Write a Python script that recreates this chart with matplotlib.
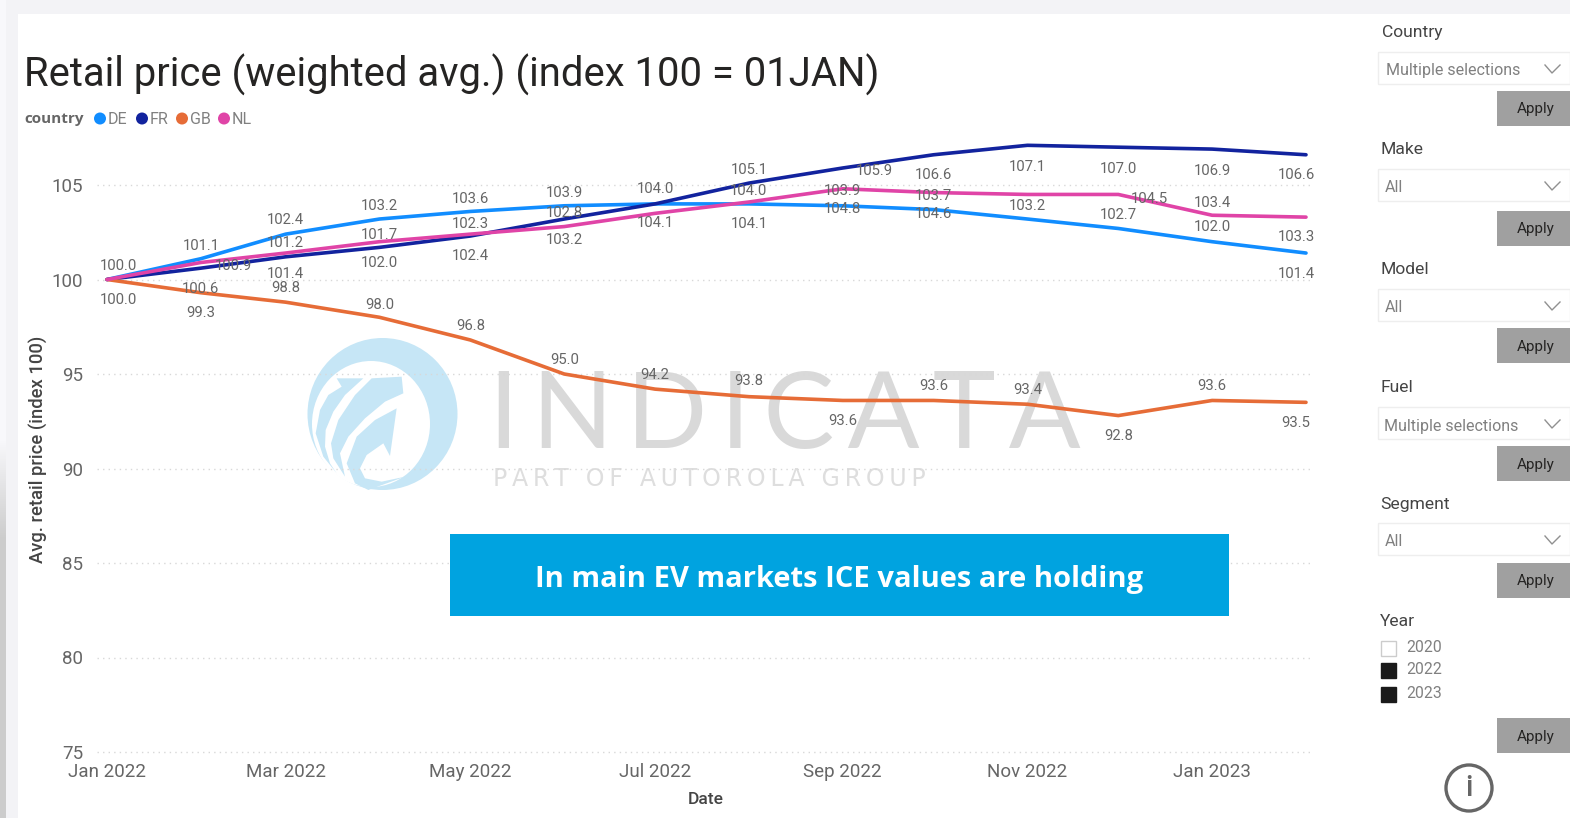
"""
Retail price index chart with the Power BI style slicer panel on the right.
Run: python plot.py  -> out.png
"""

import matplotlib
matplotlib.use("Agg")

import matplotlib.dates as mdates
import matplotlib.patches as mpatches
import matplotlib.pyplot as plt
import numpy as np
import pandas as pd
from matplotlib.colors import LinearSegmentedColormap

plt.rcParams["font.family"] = ["Roboto", "DejaVu Sans"]

# ── data ─────────────────────────────────────────────────────────────────────
dates = pd.date_range("2022-01-01", "2023-02-01", freq="MS")

de_values = [100.0, 101.1, 102.4, 103.2, 103.6, 103.9, 104.0, 104.0, 103.9, 103.7, 103.2, 102.7, 102.0, 101.4]
fr_values = [100.0, 100.6, 101.2, 101.7, 102.3, 103.2, 104.0, 105.1, 105.9, 106.6, 107.1, 107.0, 106.9, 106.6]
gb_values = [100.0, 99.3, 98.8, 98.0, 96.8, 95.0, 94.2, 93.8, 93.6, 93.6, 93.4, 92.8, 93.6, 93.5]
nl_values = [100.0, 100.9, 101.4, 102.0, 102.4, 102.8, 103.5, 104.1, 104.8, 104.6, 104.5, 104.5, 103.4, 103.3]

# data labels as printed in the picture (None = not shown)
de_labels = ["100.0", "101.1", "102.4", "103.2", "103.6", "103.9", None, "104.0", "103.9", "103.7", "103.2", "102.7", "102.0", "101.4"]
fr_labels = [None, "100.6", "101.2", "101.7", "102.3", "103.2", "104.0", "105.1", "105.9", "106.6", "107.1", "107.0", "106.9", "106.6"]
gb_labels = ["100.0", "99.3", "98.8", "98.0", "96.8", "95.0", "94.2", "93.8", "93.6", "93.6", "93.4", "92.8", "93.6", "93.5"]
nl_labels = [None, "100.9", "101.4", "102.0", "102.4", "102.8", "104.1", "104.1", "104.8", "104.6", None, "104.5", "103.4", "103.3"]

y_ticks = [75, 80, 85, 90, 95, 100, 105]
x_tick_dates = ["2022-01-01", "2022-03-01", "2022-05-01", "2022-07-01", "2022-09-01", "2022-11-01", "2023-01-01"]
x_tick_labels = ["Jan 2022", "Mar 2022", "May 2022", "Jul 2022", "Sep 2022", "Nov 2022", "Jan 2023"]

countries = ["DE", "FR", "GB", "NL"]
slicer_names = ["Country", "Make", "Model", "Fuel", "Segment"]
slicer_values = ["Multiple selections", "All", "All", "Multiple selections", "All"]
years = ["2020", "2022", "2023"]
years_checked = [False, True, True]

# ── styling ──────────────────────────────────────────────────────────────────
W, H = 1570, 818
colors = {"DE": "#118DFF", "FR": "#12239E", "GB": "#E66C37", "NL": "#E044A7"}
GREY = "#666666"

# label offsets from the line point, in pixels (dy up)
de_dy = [15, 14, 16, 15, 14, 14, 0, 14, 16, 15, 15, 15, 16, -19]
fr_dy = [0, -19, 15, 14, 14, -19, 16, 15, -2, -19, -20, -20, -20, -19]
gb_dy = [-19, -19, 16, 14, 15, 16, 16, 17, -19, 16, 16, -19, 16, -19]
nl_dy = [0, -2, -19, -20, -20, 15, -8, -20, -19, -20, 0, -3, 14, -18]
fr_dx = {8: 32}
nl_dx = {1: 33, 11: 31}

fig = plt.figure(figsize=(W / 100, H / 100), dpi=100, facecolor="white")


def px_axes(zorder):
    a = fig.add_axes([0, 0, 1, 1], zorder=zorder)
    a.set_xlim(0, W)
    a.set_ylim(H, 0)
    a.axis("off")
    a.patch.set_alpha(0)
    return a


bg = px_axes(0)
fg = px_axes(2)

# report frame
bg.add_patch(mpatches.Rectangle((0, 0), W, 14, color="#F3F3F6", lw=0))
bg.add_patch(mpatches.Rectangle((0, 0), 18, H, color="#F3F3F6", lw=0))
bg.add_patch(mpatches.Rectangle((0, 0), 6, 440, color="#F8F8FB", lw=0))
strip = LinearSegmentedColormap.from_list("strip", ["#F8F8FB", "#CCCCCC"])
bg.imshow(np.linspace(0, 1, 100).reshape(-1, 1), cmap=strip, extent=(0, 6, 540, 440), aspect="auto", zorder=2)
bg.add_patch(mpatches.Rectangle((0, 540), 6, H - 540, color="#CCCCCC", lw=0))
bg.set_xlim(0, W)
bg.set_ylim(H, 0)


# watermark logo, points taken from a 3x crop
def logo(pts):
    return [(295 + x / 3, 330 + y / 3) for x, y in pts]


LOGO = "#C6E6F6"
bg.add_patch(mpatches.Ellipse((382.5, 414), 150, 152, color=LOGO, lw=0))
bg.add_patch(mpatches.Ellipse((371, 424), 118, 126, color="white", lw=0))
bg.add_patch(mpatches.Polygon(logo([(125, 145), (205, 145), (150, 195), (115, 245), (92, 300), (90, 350), (105, 400),
                                    (125, 430), (85, 380), (62, 310), (75, 240), (100, 195), (140, 170)]),
                              color=LOGO, lw=0))
bg.add_patch(mpatches.Polygon(logo([(230, 145), (320, 140), (325, 190), (270, 215), (210, 265), (160, 320), (135, 370),
                                    (150, 440), (115, 385), (108, 340), (130, 270), (180, 195)]), color=LOGO, lw=0))
bg.add_patch(mpatches.Polygon(logo([(305, 235), (285, 378), (265, 340), (215, 375), (195, 415), (210, 445),
                                    (260, 455), (330, 440), (220, 480), (180, 460), (155, 400), (185, 320),
                                    (240, 270)]), color=LOGO, lw=0))
bg.text(785, 418, "\u2009".join("INDICATA"), fontsize=76.5, color="#D9D9D9",
        ha="center", va="center", family=["Lato", "DejaVu Sans"])
bg.text(709, 479, "\u2009".join("PART OF AUTOROLA GROUP"), fontsize=17, color="#DEDEDE",
        ha="center", va="center", family=["DejaVu Sans"])

# title + legend
bg.text(24, 75, "Retail price (weighted avg.) (index 100 = 01JAN)", fontsize=28.85, color="#252423",
        ha="left", va="center")
bg.text(24, 119, "country", fontsize=11, color=GREY, fontweight="bold", ha="left", va="center",
        family=["Open Sans", "DejaVu Sans"])
for c, mx in zip(countries, [100, 142, 182, 224]):
    bg.add_patch(mpatches.Circle((mx, 118.5), 6, color=colors[c], lw=0))
    bg.text(mx + 8, 119, c, fontsize=11.5, color="#808080", ha="left", va="center")

# ── main chart ───────────────────────────────────────────────────────────────
x0, x1 = 97, 1312
y_top, y_bot = 130, 752
ax = fig.add_axes([x0 / W, 1 - y_bot / H, (x1 - x0) / W, (y_bot - y_top) / H], zorder=1)
ax.patch.set_alpha(0)

day0 = mdates.date2num(pd.Timestamp("2022-01-01"))
px_per_day = (1306 - 107) / 396
ax.set_xlim(day0 - (107 - x0) / px_per_day, day0 + (x1 - 107) / px_per_day)
px_per_unit = (752 - 185) / 30
ax.set_ylim(75, 105 + (185 - y_top) / px_per_unit)

for y in y_ticks:
    ax.axhline(y, color="#D8D8D8", lw=1.0, ls=(0, (1, 3)), zorder=1, clip_on=False)

series = [
    ("DE", de_values, de_labels, de_dy, {}),
    ("FR", fr_values, fr_labels, fr_dy, fr_dx),
    ("GB", gb_values, gb_labels, gb_dy, {}),
    ("NL", nl_values, nl_labels, nl_dy, nl_dx),
]
for name, values, labels, dys, dxs in series:
    ax.plot(dates, values, color=colors[name], lw=2.6, solid_joinstyle="round", solid_capstyle="round",
            zorder=3, clip_on=False)
for name, values, labels, dys, dxs in series:
    for i, lab in enumerate(labels):
        if lab is None:
            continue
        dx = dxs.get(i, 0)
        if i == 0:
            dx = 11
        elif i == len(labels) - 1:
            dx = -10
        ax.annotate(lab, (dates[i], values[i]), xytext=(dx, dys[i] - 1.5), textcoords="offset pixels",
                    ha="center", va="center", fontsize=10.7, color=GREY, zorder=4, annotation_clip=False)

for s in ax.spines.values():
    s.set_visible(False)
ax.set_yticks(y_ticks)
ax.set_yticklabels([str(v) for v in y_ticks])
ax.set_xticks(pd.to_datetime(x_tick_dates))
ax.set_xticklabels(x_tick_labels)
ax.tick_params(axis="both", length=0, labelsize=13.5, labelcolor=GREY)
ax.tick_params(axis="y", pad=10)
ax.tick_params(axis="x", pad=8)

bg.text(706, 799, "Date", fontsize=12.5, color="#444444", ha="center", va="center", fontweight="medium")
bg.text(39, 449, "Avg. retail price (index 100)", fontsize=13.2, color="#444444", rotation=90,
        ha="center", va="center", fontweight="medium")

# callout
fg.add_patch(mpatches.Rectangle((449.5, 534), 779, 82, color="#00A3E0", lw=0))
fg.text(839, 580, "In main EV markets ICE values are holding", fontsize=21, color="white",
        fontweight="bold", ha="center", va="center", family=["Open Sans", "DejaVu Sans"])


# ── slicer panel ─────────────────────────────────────────────────────────────
def apply_button(top, bottom):
    bg.add_patch(mpatches.Rectangle((1497, top), 73, bottom - top, color="#A0A0A0", lw=0))
    bg.text(1536, (top + bottom) / 2 + 1, "Apply", fontsize=11, color="#252423", ha="center", va="center")


slicer_y = [33, 150, 270, 388, 505]
slicer_x = [1382, 1380, 1380, 1380, 1380]
value_x = [1386, 1385, 1385, 1384, 1385]
box_y = [52, 169, 289, 407, 523]
btn_y = [91, 211, 328, 446, 563]
for name, val, tx, vx, ty, by, ay in zip(slicer_names, slicer_values, slicer_x, value_x, slicer_y, box_y, btn_y):
    bg.text(tx, ty, name, fontsize=12.6, color="#444444", ha="left", va="center")
    bg.add_patch(mpatches.Rectangle((1378, by), 192, 32, facecolor="white", edgecolor="#EEEEEE", lw=1))
    bg.text(vx, by + 19, val, fontsize=11.5, color="#808080", ha="left", va="center")
    bg.plot([1545, 1552, 1560], [by + 13, by + 21, by + 13], color="#909090", lw=1)
    apply_button(ay, ay + 35)

bg.text(1380, 622, "Year", fontsize=12.6, color="#444444", ha="left", va="center")
for yr, on, cy in zip(years, years_checked, [648, 670, 694]):
    bg.add_patch(mpatches.Rectangle((1381, cy - 7), 15, 15, facecolor="#1A1A1A" if on else "white",
                                    edgecolor="#1A1A1A" if on else "#CCCCCC", lw=1))
    bg.text(1406, cy, yr, fontsize=11.3, color="#808080", ha="left", va="center")
apply_button(718, 753)

bg.add_patch(mpatches.Circle((1469, 788), 23, facecolor="white", edgecolor="#666666", lw=2.4))
bg.text(1469, 788, "i", fontsize=21, color="#666666", ha="center", va="center", fontweight="medium")

plt.savefig("out.png", dpi=100, facecolor="white")
print("saved out.png")
